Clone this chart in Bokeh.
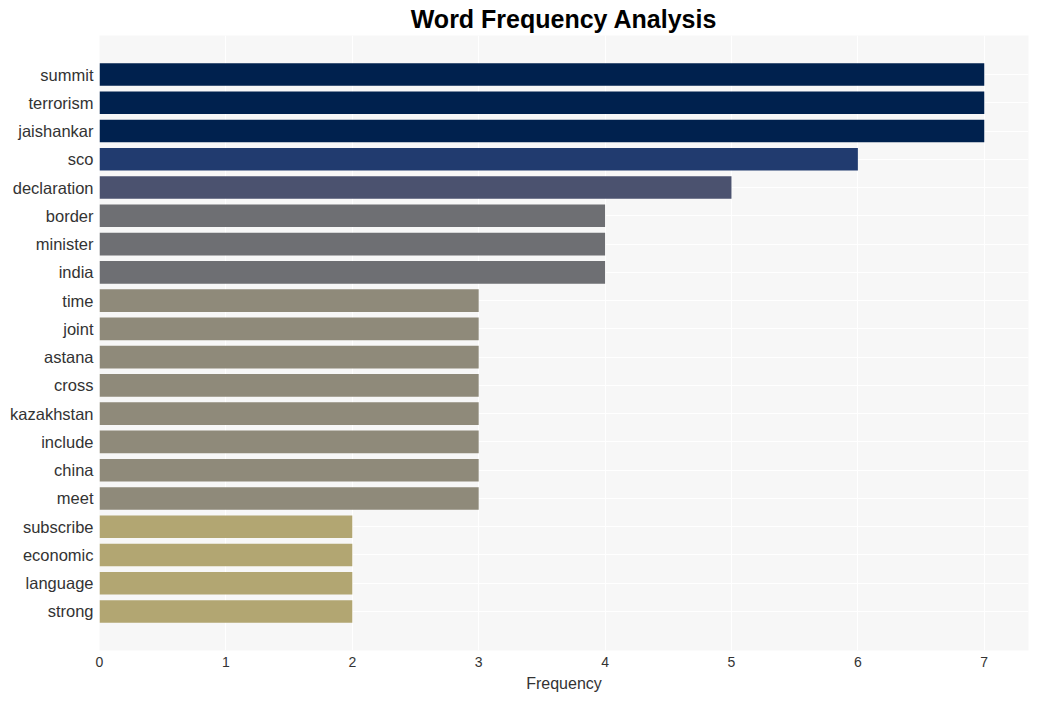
from bokeh.plotting import figure
from bokeh.models import FactorRange, Range1d, ColumnDataSource
from bokeh.embed import file_html
from bokeh.resources import INLINE

words = ["summit", "terrorism", "jaishankar", "sco", "declaration", "border",
         "minister", "india", "time", "joint", "astana", "cross", "kazakhstan",
         "include", "china", "meet", "subscribe", "economic", "language", "strong"]
counts = [7, 7, 7, 6, 5, 4, 4, 4, 3, 3, 3, 3, 3, 3, 3, 3, 2, 2, 2, 2]
value_colors = {7: "#00214e", 6: "#213b6f", 5: "#4b526f", 4: "#6e6f73", 3: "#8f8a7a", 2: "#b2a672"}
colors = [value_colors[c] for c in counts]
x_ticks = [0, 1, 2, 3, 4, 5, 6, 7]

src = ColumnDataSource(dict(word=words, count=counts, color=colors))

p = figure(
    y_range=FactorRange(factors=list(reversed(words)), range_padding=0.88, range_padding_units="absolute"),
    x_range=Range1d(0, 7.35),
    frame_width=929, frame_height=615,
    min_border_left=99, min_border_right=11, min_border_top=20, min_border_bottom=48,
    output_backend="svg", toolbar_location=None,
    title="Word Frequency Analysis",
)
p.hbar(y="word", right="count", left=0, height=0.8, color="color", line_color=None, source=src)

p.title.align = "center"
p.title.text_font = "Liberation Sans"
p.title.text_font_size = "25px"
p.title.text_font_style = "bold"
p.title.text_color = "#000000"
p.title.standoff = 5

p.background_fill_color = "#f7f7f7"
p.border_fill_color = "#ffffff"
p.outline_line_color = None

p.xgrid.grid_line_color = "#ffffff"
p.xgrid.grid_line_width = 1
p.ygrid.grid_line_color = "#ffffff"
p.ygrid.grid_line_width = 1

p.xaxis.ticker = x_ticks
p.xaxis.axis_label = "Frequency"
p.xaxis.axis_label_text_font = "Liberation Sans"
p.xaxis.axis_label_text_font_size = "16px"
p.xaxis.axis_label_text_font_style = "normal"
p.xaxis.axis_label_text_color = "#333333"
p.xaxis.axis_label_standoff = 5
p.xaxis.major_label_text_font = "Liberation Sans"
p.xaxis.major_label_text_font_size = "14px"
p.xaxis.major_label_text_color = "#333333"
p.xaxis.major_label_standoff = 6

p.yaxis.major_label_text_font = "Liberation Sans"
p.yaxis.major_label_text_font_size = "16.5px"
p.yaxis.major_label_text_color = "#333333"
p.yaxis.major_label_standoff = 6

for ax in (p.xaxis, p.yaxis):
    ax.axis_line_color = None
    ax.major_tick_line_color = None
    ax.minor_tick_line_color = None
    ax.major_tick_out = 0
    ax.major_tick_in = 0
    ax.minor_tick_out = 0

open("out.html", "w").write(file_html(p, INLINE))
